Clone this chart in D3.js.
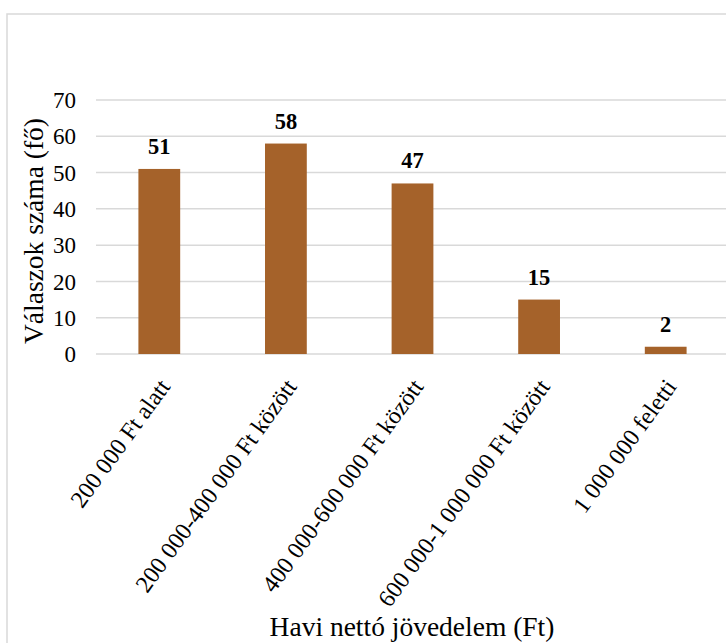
<!DOCTYPE html>
<html>
<head>
<meta charset="utf-8">
<script src="https://cdn.jsdelivr.net/npm/d3@7"></script>
<style>
  html, body { margin: 0; padding: 0; background: #fff; }
  svg { display: block; }
  svg text { font-family: "Liberation Serif", "Times New Roman", serif !important; }
</style>
</head>
<body>
<svg id="chart" width="726" height="643"></svg>
<script>
// Income brackets and number of respondents
const categories = [
  "200 000 Ft alatt",
  "200 000-400 000 Ft között",
  "400 000-600 000 Ft között",
  "600 000-1 000 000 Ft között",
  "1 000 000 feletti"
];
const values = [51, 58, 47, 15, 2];
const yTicks = [0, 10, 20, 30, 40, 50, 60, 70];
const xTitle = "Havi nettó jövedelem (Ft)";
const yTitle = "Válaszok száma (fő)";

const svg = d3.select("#chart");

// chart frame (extends past the right and bottom of the view)
svg.append("rect")
  .attr("x", 7).attr("y", 14)
  .attr("width", 740).attr("height", 660)
  .attr("fill", "#fff")
  .attr("stroke", "#d9d9d9")
  .attr("stroke-width", 1.5);

const plot = { left: 96, right: 729, top: 100, bottom: 354 };

const x = d3.scaleBand()
  .domain(categories)
  .range([plot.left, plot.right])
  .paddingInner(0.67)
  .paddingOuter(0.335);

const y = d3.scaleLinear()
  .domain([0, 70])
  .range([plot.bottom, plot.top]);

// horizontal gridlines
svg.append("g")
  .selectAll("line")
  .data(yTicks)
  .join("line")
  .attr("x1", plot.left).attr("x2", plot.right + 20)
  .attr("y1", d => y(d)).attr("y2", d => y(d))
  .attr("stroke", "#d9d9d9")
  .attr("stroke-width", 1.5);

// y axis tick labels
const yAxis = d3.axisLeft(y).tickValues(yTicks).tickSize(0).tickPadding(0);
const yg = svg.append("g")
  .attr("transform", `translate(${plot.left - 20},0)`)
  .call(yAxis);
yg.select(".domain").remove();
yg.selectAll("text")
  .attr("font-size", 23)
  .attr("fill", "#000")
  .attr("dy", "0.33em");

// bars
svg.append("g")
  .selectAll("rect")
  .data(values)
  .join("rect")
  .attr("x", (d, i) => x(categories[i]))
  .attr("y", d => y(d))
  .attr("width", x.bandwidth())
  .attr("height", d => y(0) - y(d))
  .attr("fill", "#a5622a");

// value labels above bars
svg.append("g")
  .selectAll("text")
  .data(values)
  .join("text")
  .attr("x", (d, i) => x(categories[i]) + x.bandwidth() / 2)
  .attr("y", d => y(d) - 15)
  .attr("text-anchor", "middle")
  .attr("font-size", 22.5)
  .attr("font-weight", "bold")
  .attr("fill", "#000")
  .text(d => d);

// x axis category labels, rotated
const xAxis = d3.axisBottom(x).tickSize(0).tickPadding(0);
const xg = svg.append("g")
  .attr("transform", `translate(0,${plot.bottom})`)
  .call(xAxis);
xg.select(".domain").remove();
xg.selectAll("text")
  .attr("font-size", 24)
  .attr("fill", "#000")
  .attr("text-anchor", "end")
  .attr("x", 0).attr("y", 0).attr("dy", "0.35em")
  .attr("transform", "translate(5,28) rotate(-54)");

// axis titles
svg.append("text")
  .attr("x", 412)
  .attr("y", 636)
  .attr("text-anchor", "middle")
  .attr("font-size", 27.5)
  .attr("fill", "#000")
  .text(xTitle);

svg.append("text")
  .attr("transform", `translate(43,231) rotate(-90)`)
  .attr("text-anchor", "middle")
  .attr("font-size", 27.5)
  .attr("fill", "#000")
  .text(yTitle);
</script>
</body>
</html>
